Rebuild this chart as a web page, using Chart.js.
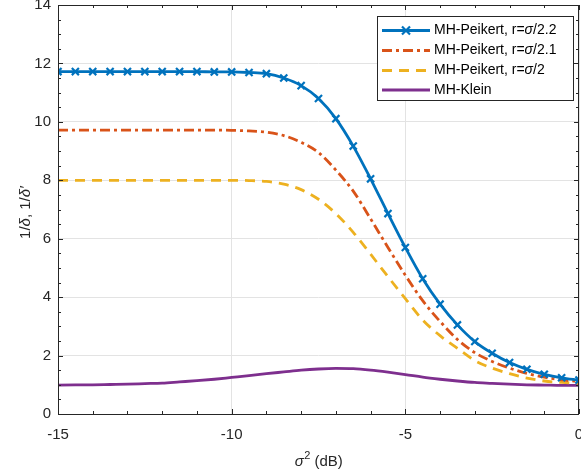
<!DOCTYPE html>
<html>
<head>
<meta charset="utf-8">
<script src="https://cdn.jsdelivr.net/npm/chart.js@4/dist/chart.umd.min.js"></script>
<style>
  html, body { margin: 0; padding: 0; background: #fff; }
  #wrap { width: 581px; height: 474px; }
</style>
</head>
<body>
<div id="wrap"><canvas id="chart"></canvas></div>
<script>
// sigma^2 in dB
const sigmaDb = [-15, -14.5, -14, -13.5, -13, -12.5, -12, -11.5, -11, -10.5, -10, -9.5, -9, -8.5, -8, -7.5,
                 -7, -6.5, -6, -5.5, -5, -4.5, -4, -3.5, -3, -2.5, -2, -1.5, -1, -0.5, 0];

// 1/delta for MH-Peikert, r = sigma/2.2
const peikert22 = [11.72, 11.72, 11.72, 11.72, 11.72, 11.72, 11.72, 11.72, 11.72, 11.71, 11.71, 11.69, 11.65, 11.5, 11.24, 10.8,
                   10.11, 9.17, 8.05, 6.86, 5.7, 4.63, 3.76, 3.05, 2.48, 2.08, 1.76, 1.53, 1.36, 1.24, 1.16];
// r = sigma/2.1
const peikert21 = [9.72, 9.72, 9.72, 9.72, 9.72, 9.72, 9.72, 9.72, 9.72, 9.72, 9.71, 9.69, 9.65, 9.53, 9.3, 8.95,
                   8.35, 7.63, 6.68, 5.7, 4.75, 3.88, 3.17, 2.55, 2.1, 1.8, 1.57, 1.39, 1.26, 1.17, 1.11];
// r = sigma/2
const peikert2 = [8.0, 8.0, 8.0, 8.0, 8.0, 8.0, 8.0, 8.0, 8.0, 8.0, 8.0, 7.99, 7.96, 7.87, 7.68, 7.35,
                  6.86, 6.22, 5.47, 4.7, 3.95, 3.22, 2.68, 2.25, 1.83, 1.57, 1.38, 1.23, 1.13, 1.08, 1.05];
// 1/delta' for MH-Klein
const klein = [0.99, 0.995, 1.0, 1.01, 1.02, 1.04, 1.06, 1.1, 1.14, 1.19, 1.25, 1.31, 1.38, 1.44, 1.5, 1.54,
               1.56, 1.55, 1.5, 1.43, 1.35, 1.26, 1.19, 1.13, 1.08, 1.05, 1.02, 1.0, 0.99, 0.98, 0.98];

const xTicks = [-15, -10, -5, 0];
const yTicks = [0, 2, 4, 6, 8, 10, 12, 14];

const FONT = "'Liberation Sans', Arial, Helvetica, sans-serif";
const AXIS = '#262626';

const series = [
  { label: 'MH-Peikert, r=', frac: '/2.2', data: peikert22, color: '#0072BD', dash: [], marker: true },
  { label: 'MH-Peikert, r=', frac: '/2.1', data: peikert21, color: '#D95319', dash: [10, 4, 3, 4], marker: false },
  { label: 'MH-Peikert, r=', frac: '/2', data: peikert2, color: '#EDB120', dash: [10, 7], marker: false },
  { label: 'MH-Klein', frac: '', data: klein, color: '#7E2F8E', dash: [], marker: false }
];

function toPoints(ys) {
  return sigmaDb.map((x, i) => ({ x: x, y: ys[i] }));
}

// box, inward ticks, axis titles and legend, MATLAB style
const matlabAxes = {
  id: 'matlabAxes',
  afterDraw(chart) {
    const ctx = chart.ctx;
    const a = chart.chartArea;
    const xs = chart.scales.x, ys = chart.scales.y;
    ctx.save();
    ctx.strokeStyle = AXIS;
    ctx.lineWidth = 1;
    ctx.setLineDash([]);
    ctx.beginPath();
    // x ticks (major every 5, minor every 1) bottom and top
    for (let v = -15; v <= 0; v += 1) {
      const len = xTicks.includes(v) ? 5 : 3;
      const px = Math.round(xs.getPixelForValue(v)) + 0.5;
      ctx.moveTo(px, a.bottom); ctx.lineTo(px, a.bottom - len);
      ctx.moveTo(px, a.top); ctx.lineTo(px, a.top + len);
    }
    // y ticks (major every 2, minor every 0.5) left and right
    for (let v = 0; v <= 14; v += 0.5) {
      const len = yTicks.includes(v) ? 5 : 3;
      const py = Math.round(ys.getPixelForValue(v)) + 0.5;
      ctx.moveTo(a.left, py); ctx.lineTo(a.left + len, py);
      ctx.moveTo(a.right, py); ctx.lineTo(a.right - len, py);
    }
    ctx.stroke();
    ctx.strokeRect(Math.round(a.left) + 0.5, Math.round(a.top) + 0.5,
                   Math.round(a.right - a.left) - 1, Math.round(a.bottom - a.top));

    // x title: sigma^2 (dB)
    ctx.fillStyle = AXIS;
    ctx.textBaseline = 'middle';
    const cx = (a.left + a.right) / 2, ty = 462;
    const p1 = 'italic 15px ' + FONT, p2 = '11px ' + FONT, p3 = '15px ' + FONT;
    ctx.font = p1; const w1 = ctx.measureText('σ').width;
    ctx.font = p2; const w2 = ctx.measureText('2').width;
    ctx.font = p3; const w3 = ctx.measureText(' (dB)').width;
    let x0 = cx - (w1 + w2 + w3) / 2;
    ctx.textAlign = 'left';
    ctx.font = p1; ctx.fillText('σ', x0, ty);
    ctx.font = p2; ctx.fillText('2', x0 + w1 + 0.5, ty - 6);
    ctx.font = p3; ctx.fillText(' (dB)', x0 + w1 + w2 + 0.5, ty);

    // y title: 1/delta, 1/delta'
    ctx.save();
    ctx.translate(26, (a.top + a.bottom) / 2 + 3);
    ctx.rotate(-Math.PI / 2);
    const parts = [['1/', p3], ['δ', p1], [', 1/', p3], ['δ′', p1]];
    let tw = 0;
    parts.forEach(p => { ctx.font = p[1]; tw += ctx.measureText(p[0]).width; });
    let px = -tw / 2;
    parts.forEach(p => { ctx.font = p[1]; ctx.fillText(p[0], px, 0); px += ctx.measureText(p[0]).width; });
    ctx.restore();

    // legend
    const bx = 377.5, by = 16.5, bw = 196, bh = 84;
    ctx.fillStyle = '#fff';
    ctx.fillRect(bx, by, bw, bh);
    ctx.strokeStyle = AXIS;
    ctx.lineWidth = 1;
    ctx.strokeRect(bx, by, bw, bh);
    const rows = [30.5, 50.5, 70.5, 90];
    series.forEach((s, i) => {
      const ry = rows[i];
      ctx.strokeStyle = s.color;
      ctx.lineWidth = 2.8;
      ctx.setLineDash(s.dash);
      ctx.beginPath();
      ctx.moveTo(382, ry); ctx.lineTo(430, ry);
      ctx.stroke();
      ctx.setLineDash([]);
      if (s.marker) {
        ctx.lineWidth = 2.2;
        const r = 4, mx = 406;
        ctx.beginPath();
        ctx.moveTo(mx - r, ry - r); ctx.lineTo(mx + r, ry + r);
        ctx.moveTo(mx - r, ry + r); ctx.lineTo(mx + r, ry - r);
        ctx.stroke();
      }
      ctx.fillStyle = '#000';
      ctx.textAlign = 'left';
      let tx = 434;
      ctx.font = '14px ' + FONT;
      ctx.fillText(s.label, tx, ry);
      if (s.frac) {
        tx += ctx.measureText(s.label).width;
        ctx.font = 'italic 14px ' + FONT;
        ctx.fillText('σ', tx, ry);
        tx += ctx.measureText('σ').width;
        ctx.font = '14px ' + FONT;
        ctx.fillText(s.frac, tx, ry);
      }
    });
    ctx.restore();
  }
};

const ctx = document.getElementById('chart').getContext('2d');
const chart = new Chart(ctx, {
  type: 'line',
  data: {
    datasets: series.map(s => ({
      label: s.label + 'σ' + s.frac,
      data: toPoints(s.data),
      borderColor: s.color,
      backgroundColor: s.color,
      borderWidth: 2.8,
      borderDash: s.dash,
      cubicInterpolationMode: 'monotone',
      pointStyle: 'crossRot',
      pointRadius: s.marker ? 5 : 0,
      pointBorderWidth: 2.2,
      pointBorderColor: s.color,
      fill: false
    }))
  },
  options: {
    responsive: true,
    maintainAspectRatio: false,
    animation: false,
    layout: { padding: 0, autoPadding: false },
    plugins: {
      legend: { display: false },
      tooltip: { enabled: false }
    },
    scales: {
      x: {
        type: 'linear',
        min: -15,
        max: 0,
        afterBuildTicks: s => { s.ticks = xTicks.map(v => ({ value: v })); },
        afterFit: s => { s.height = 60; s.paddingLeft = 0; s.paddingRight = 2; },
        grid: { color: '#e3e3e3', drawTicks: false },
        border: { display: false },
        ticks: { color: AXIS, font: { family: FONT, size: 15 }, padding: 12, maxRotation: 0 }
      },
      y: {
        min: 0,
        max: 14,
        afterBuildTicks: s => { s.ticks = yTicks.map(v => ({ value: v })); },
        afterFit: s => { s.width = 58; s.paddingTop = 5; s.paddingBottom = 0; },
        grid: { color: '#e3e3e3', drawTicks: false },
        border: { display: false },
        ticks: { color: AXIS, font: { family: FONT, size: 15 }, padding: 7 }
      }
    }
  },
  plugins: [matlabAxes]
});
</script>
</body>
</html>
